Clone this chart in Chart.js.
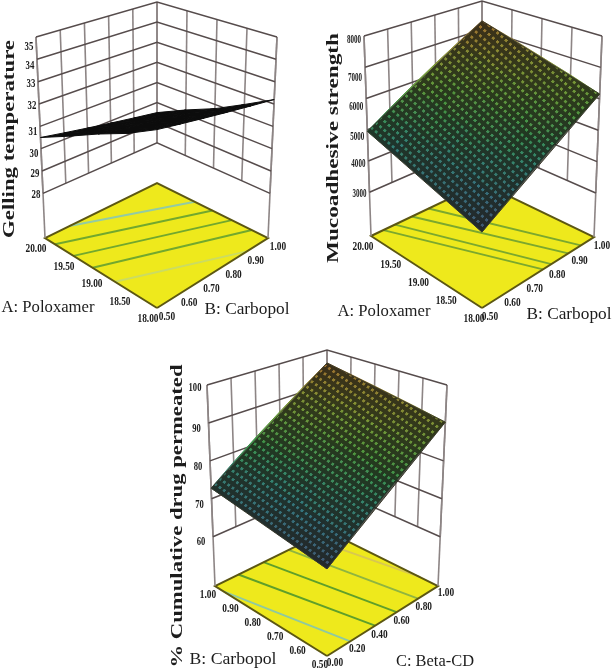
<!DOCTYPE html>
<html>
<head>
<meta charset="utf-8">
<title>Response surfaces</title>
<script src="https://cdn.jsdelivr.net/npm/chart.js@4"></script>
<style>
  body { margin: 0; background: #fff; }
  #surfaces { display: block; filter: blur(0.5px); }
</style>
</head>
<body>
<canvas id="surfaces" width="614" height="671"></canvas>
<script>
// Axis ticks
const poloxamerTicks = [18, 18.5, 19, 19.5, 20];
const carbopolTicks = [0.5, 0.6, 0.7, 0.8, 0.9, 1];
const betaCdTicks = [0, 0.2, 0.4, 0.6, 0.8, 1];
const gellingTicks = [28, 29, 30, 31, 32, 33, 34, 35];
const mucoTicks = [3000, 4000, 5000, 6000, 7000, 8000];
const permeatedTicks = [60, 70, 80, 90, 100];

// Surface heights: one row per tick of the left floor axis,
// one column per tick of the right floor axis
const gellingValues = [
  [33.2, 33.0, 32.8, 32.6, 32.4, 32.2],
  [32.5, 32.3, 32.1, 31.9, 31.7, 31.5],
  [31.9, 31.7, 31.5, 31.3, 31.1, 30.8],
  [31.2, 31.0, 30.8, 30.6, 30.4, 30.2],
  [30.5, 30.3, 30.1, 29.9, 29.7, 29.5],
];
const mucoValues = [
  [3800, 4270, 4740, 5210, 5680, 6150],
  [4080, 4550, 5020, 5490, 5960, 6440],
  [4370, 4840, 5310, 5780, 6250, 6720],
  [4660, 5130, 5600, 6070, 6540, 7010],
  [4950, 5420, 5890, 6360, 6830, 7300],
];
const permeatedValues = [
  [67.7, 72.1, 76.6, 81.0, 85.6, 90.2],
  [68.7, 73.1, 77.6, 82.0, 86.8, 91.4],
  [69.7, 74.2, 78.7, 83.2, 88.0, 92.6],
  [70.8, 75.2, 79.7, 84.2, 89.0, 93.8],
  [71.8, 76.3, 80.8, 85.4, 90.2, 95.0],
  [72.8, 77.4, 82.0, 86.6, 91.4, 96.2],
];

// Contours on the floor: [u start, v start, u end, v end]
const gellingContours = [
  [20, 0.609, 19.32, 1],
  [19.82, 0.5, 19.0, 1],
  [19.49, 0.5, 18.65, 1],
  [19.15, 0.5, 18.29, 1],
  [18.75, 0.5, 18, 0.904],
];
const mucoContours = [
  [20, 0.556, 18, 0.772],
  [20, 0.608, 18, 0.809],
  [20, 0.684, 18, 0.885],
  [20, 0.759, 18, 0.941],
];
const permeatedContours = [
  [0.96, 0, 0.5, 0.209],
  [1, 0.209, 0.5, 0.433],
  [1, 0.433, 0.5, 0.627],
  [1, 0.657, 0.5, 0.82],
  [1, 0.86, 0.58, 1],
];

const gridColor = "#564c4c";
const verticalColor = "#8d8585";
const floorColor = "#eee91c";
const floorEdge = "#5c5712";
const textColor = "#1c1c1c";
const tickFont = "bold 13px 'Liberation Serif'";
const titleFont = "16px 'Liberation Serif'";
const sideFont = "bold 16px 'Liberation Serif'";
const surfaceStops = [
  [0, [66, 84, 112]],
  [0.25, [48, 124, 128]],
  [0.5, [62, 146, 66]],
  [0.75, [128, 152, 52]],
  [1, [156, 108, 46]],
];

const panels = [
  {
    uTicks: poloxamerTicks, vTicks: carbopolTicks, zTicks: gellingTicks, zRange: [26, 35],
    values: gellingValues, contours: gellingContours,
    contourColors: ["#93cba4", "#72a82e", "#72a82e", "#72a82e", "#cbdc62"],
    surfaceColor: "#0c0c0c",
    floor: { front: [157, 308], left: [45, 238], right: [268, 238], back: [157, 183] },
    top: { front: [157, 85], left: [36, 37], right: [277, 37], back: [157, 2] },
    zLabel: { dx: -7, nudge: [1, 3, 5, 5, 2, 2, 6, 10], sx: 0.68 }, uLabel: [-9, 11], vLabel: [10, 9],
    side: { text: "Gelling temperature", x: 10, y: 139, width: 198 },
    uTitle: { text: "A: Poloxamer", x: 48, y: 308, width: 93 },
    vTitle: { text: "B: Carbopol", x: 247, y: 310, width: 85 },
  },
  {
    uTicks: poloxamerTicks, vTicks: carbopolTicks, zTicks: mucoTicks, zRange: [1600, 8000],
    values: mucoValues, contours: mucoContours,
    contourColors: ["#7ba82e", "#7ba82e", "#7ba82e", "#7ba82e"],
    floor: { front: [482, 308], left: [371, 236], right: [594, 237], back: [482, 183] },
    top: { front: [482, 87], left: [364, 36], right: [602, 36], back: [482, 1] },
    zLabel: { dx: -10, nudge: [1, 3, 7, 8, 10, 4], sx: 0.54 }, uLabel: [-8, 11], vLabel: [8, 9],
    side: { text: "Mucoadhesive strength", x: 334, y: 148, width: 230 },
    uTitle: { text: "A: Poloxamer", x: 384, y: 312, width: 93 },
    vTitle: { text: "B: Carbopol", x: 569, y: 315, width: 85 },
  },
  {
    uTicks: carbopolTicks, vTicks: betaCdTicks, zTicks: permeatedTicks, zRange: [47, 100],
    values: permeatedValues, contours: permeatedContours,
    contourColors: ["#8fc9a0", "#5f9f2a", "#5f9f2a", "#8fb540", "#d8c850"],
    floor: { front: [327, 656], left: [215, 586], right: [438, 586], back: [327, 531] },
    top: { front: [327, 433], left: [207, 385], right: [447, 385], back: [327, 350] },
    zLabel: { dx: -12, nudge: [5, 6, 6, 6, 3], sx: 0.66 }, uLabel: [-7, 9], vLabel: [8, 7],
    side: { text: "% Cumulative drug permeated", x: 178, y: 516, width: 303 },
    uTitle: { text: "B: Carbopol", x: 233, y: 660, width: 87 },
    vTitle: { text: "C: Beta-CD", x: 435, y: 662, width: 78 },
  },
];

const lerp = (a, b, t) => a + (b - a) * t;

// Box corners are perspective-shifted, so blend between the eight of them
function project(panel, u, v, z) {
  const us = panel.uTicks, vs = panel.vTicks;
  const s = (u - us[0]) / (us[us.length - 1] - us[0]);
  const t = (v - vs[0]) / (vs[vs.length - 1] - vs[0]);
  const h = (z - panel.zRange[0]) / (panel.zRange[1] - panel.zRange[0]);
  const blend = (c, i) =>
    lerp(lerp(c.front[i], c.left[i], s), lerp(c.right[i], c.back[i], s), t);
  return {
    x: lerp(blend(panel.floor, 0), blend(panel.top, 0), h),
    y: lerp(blend(panel.floor, 1), blend(panel.top, 1), h),
  };
}

function lineSet(points, color, width) {
  return { data: points, showLine: true, fill: false, borderColor: color, borderWidth: width, pointRadius: 0 };
}

function shapeSet(points, color, edge) {
  return {
    data: [...points, points[0]], showLine: true, fill: "shape", backgroundColor: color,
    borderColor: edge || color, borderWidth: edge ? 1 : 0, pointRadius: 0,
  };
}

function surfaceColorAt(f) {
  for (let i = 1; i < surfaceStops.length; i++) {
    const [p0, c0] = surfaceStops[i - 1];
    const [p1, c1] = surfaceStops[i];
    if (f <= p1) {
      const t = (f - p0) / (p1 - p0);
      return `rgb(${c0.map((c, k) => Math.round(lerp(c, c1[k], t))).join(",")})`;
    }
  }
  return "rgb(156,108,46)";
}

// Dark mesh laid along the two floor directions of the surface
function meshPattern(ctx, front, left, right, count) {
  const size = 10;
  const tile = document.createElement("canvas");
  tile.width = tile.height = size;
  const t = tile.getContext("2d");
  t.fillStyle = "rgba(24,24,16,0.72)";
  t.fillRect(0, 0, size, 6);
  t.fillRect(0, 6, 5, 4);
  const pattern = ctx.createPattern(tile, "repeat");
  const k = 1 / (count * size);
  pattern.setTransform(new DOMMatrix([
    (left.x - front.x) * k, (left.y - front.y) * k,
    (right.x - front.x) * k, (right.y - front.y) * k,
    front.x, front.y,
  ]));
  return pattern;
}

function panelDatasets(panel, ctx) {
  const sets = [];
  const { uTicks: us, vTicks: vs, zTicks: zs, values } = panel;
  const uLast = us[us.length - 1], vLast = vs[vs.length - 1];
  const zLow = zs[0], zHigh = panel.zRange[1];

  // Floor
  const floorPts = [[us[0], vs[0]], [uLast, vs[0]], [uLast, vLast], [us[0], vLast]]
    .map(([u, v]) => project(panel, u, v, panel.zRange[0]));
  sets.push(shapeSet(floorPts, floorColor));
  panel.contours.forEach((c, i) => {
    sets.push(lineSet([
      project(panel, c[0], c[1], panel.zRange[0]),
      project(panel, c[2], c[3], panel.zRange[0]),
    ], panel.contourColors[i], 1.9));
  });
  sets.push(lineSet([...floorPts, floorPts[0]], floorEdge, 2));

  // Back walls
  vs.forEach((v) => {
    sets.push(lineSet([project(panel, uLast, v, zLow), project(panel, uLast, v, zHigh)], verticalColor, 1.6));
  });
  us.forEach((u) => {
    sets.push(lineSet([project(panel, u, vLast, zLow), project(panel, u, vLast, zHigh)], verticalColor, 1.6));
  });
  sets.push(lineSet([project(panel, uLast, vs[0], panel.zRange[0]), project(panel, uLast, vs[0], zHigh)], verticalColor, 1.6));
  sets.push(lineSet([project(panel, us[0], vLast, panel.zRange[0]), project(panel, us[0], vLast, zHigh)], verticalColor, 1.6));
  zs.forEach((z) => {
    sets.push(lineSet([
      project(panel, uLast, vs[0], z),
      project(panel, uLast, vLast, z),
      project(panel, us[0], vLast, z),
    ], gridColor, 1.5));
  });

  // Surface
  const flat = values.flat();
  const low = Math.min(...flat), high = Math.max(...flat);
  const tone = (z) => surfaceColorAt((z - low) / (high - low));
  for (let i = 0; i < us.length - 1; i++) {
    for (let j = 0; j < vs.length - 1; j++) {
      const corners = [[i, j], [i + 1, j], [i + 1, j + 1], [i, j + 1]].map(([a, b]) => ({
        z: values[a][b], p: project(panel, us[a], vs[b], values[a][b]),
      }));
      if (panel.surfaceColor) {
        sets.push(shapeSet(corners.map((c) => c.p), panel.surfaceColor, panel.surfaceColor));
        continue;
      }
      const sorted = [...corners].sort((a, b) => a.z - b.z);
      const a = sorted[0], b = sorted[3];
      const grad = ctx.createLinearGradient(a.p.x, a.p.y, b.p.x, b.p.y);
      grad.addColorStop(0, tone(a.z));
      grad.addColorStop(1, tone(b.z));
      sets.push(shapeSet(corners.map((c) => c.p), grad, grad));
    }
  }
  if (!panel.surfaceColor) {
    const front = project(panel, us[0], vs[0], values[0][0]);
    const left = project(panel, uLast, vs[0], values[us.length - 1][0]);
    const right = project(panel, us[0], vLast, values[0][vs.length - 1]);
    const back = project(panel, uLast, vLast, values[us.length - 1][vs.length - 1]);
    sets.push(shapeSet([front, left, back, right], meshPattern(ctx, front, left, right, 27), "#3a3a2c"));
  }
  return sets;
}

// Canvas text with horizontal squeeze, for the narrow tick labels and titles
function putText(ctx, text, x, y, font, opts = {}) {
  ctx.save();
  ctx.font = font;
  ctx.fillStyle = textColor;
  ctx.textAlign = "center";
  ctx.textBaseline = "middle";
  ctx.translate(x, y);
  if (opts.rotate) ctx.rotate(opts.rotate);
  let sx = opts.sx || 1;
  if (opts.width) sx = opts.width / ctx.measureText(text).width;
  ctx.scale(sx, 1);
  ctx.fillText(text, 0, 0);
  ctx.restore();
}

const panelLabels = {
  id: "panelLabels",
  afterDatasetsDraw(chart) {
    const { ctx, scales } = chart;
    const at = (p, dx, dy) => [scales.x.getPixelForValue(p.x) + dx, scales.y.getPixelForValue(p.y) + dy];
    panels.forEach((panel) => {
      const { uTicks: us, vTicks: vs, zTicks: zs } = panel;
      const base = panel.zRange[0];
      zs.forEach((z, i) => {
        const [x, y] = at(project(panel, us[us.length - 1], vs[0], z), panel.zLabel.dx, panel.zLabel.nudge[i]);
        putText(ctx, String(z), x, y, tickFont, { sx: panel.zLabel.sx });
      });
      us.forEach((u) => {
        const [x, y] = at(project(panel, u, vs[0], base), panel.uLabel[0], panel.uLabel[1]);
        putText(ctx, u.toFixed(2), x, y, tickFont, { sx: 0.72 });
      });
      vs.forEach((v) => {
        const [x, y] = at(project(panel, us[0], v, base), panel.vLabel[0], panel.vLabel[1]);
        putText(ctx, v.toFixed(2), x, y, tickFont, { sx: 0.72 });
      });
      const s = panel.side;
      putText(ctx, s.text, s.x, s.y, sideFont, { rotate: -Math.PI / 2, width: s.width });
      [panel.uTitle, panel.vTitle].forEach((t) => putText(ctx, t.text, t.x, t.y, titleFont, { width: t.width }));
    });
  },
};

const canvas = document.getElementById("surfaces");
const context = canvas.getContext("2d");
// Chart.js paints the first dataset last, so flip the paint order
const datasets = panels.flatMap((panel) => panelDatasets(panel, context)).reverse();

new Chart(context, {
  type: "scatter",
  data: { datasets },
  options: {
    responsive: false,
    animation: false,
    layout: { padding: 0 },
    elements: { line: { tension: 0 } },
    plugins: { legend: { display: false }, tooltip: { enabled: false } },
    scales: {
      x: { type: "linear", min: 0, max: 614, display: false },
      y: { type: "linear", min: 0, max: 671, reverse: true, display: false },
    },
  },
  plugins: [panelLabels],
});
</script>
</body>
</html>
